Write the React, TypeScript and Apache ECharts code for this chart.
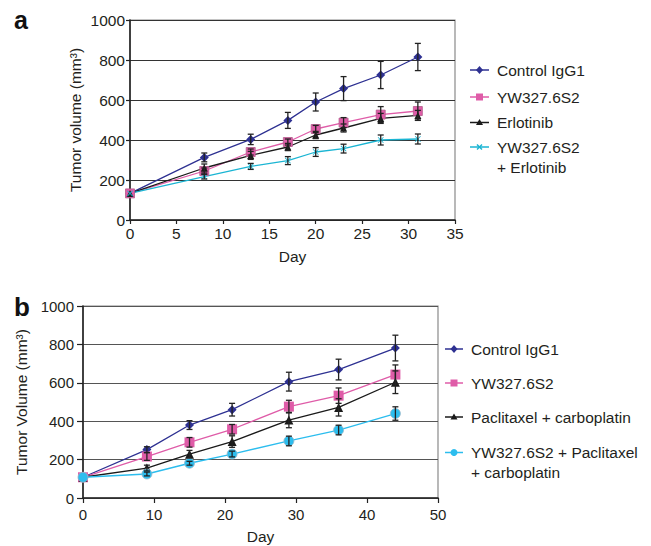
import React, { useEffect, useRef } from "react";
import * as echarts from "echarts";

// ---------- Panel a data ----------
const daysA = [0, 8, 13, 17, 20, 23, 27, 31];
const controlA = [133, 313, 403, 498, 590, 657, 725, 815];
const controlAErr = [0, 22, 26, 40, 45, 60, 68, 68];
const ywA = [133, 245, 340, 390, 455, 487, 527, 545];
const ywAErr = [0, 15, 15, 15, 18, 25, 40, 45];
const erloA = [133, 260, 323, 365, 425, 460, 508, 523];
const erloAErr = [0, 20, 20, 18, 18, 20, 25, 25];
const comboA = [133, 217, 268, 297, 340, 357, 400, 405];
const comboAErr = [0, 12, 15, 20, 22, 22, 25, 25];

// ---------- Panel b data ----------
const daysB = [0, 9, 15, 21, 29, 36, 44];
const controlB = [108, 252, 380, 460, 606, 669, 781];
const controlBErr = [0, 15, 23, 33, 49, 54, 67];
const ywB = [108, 216, 290, 358, 476, 533, 643];
const ywBErr = [0, 20, 25, 25, 33, 40, 50];
const pacB = [108, 156, 228, 294, 406, 472, 603];
const pacBErr = [0, 15, 20, 30, 40, 45, 59];
const comboB = [108, 125, 181, 229, 297, 354, 440];
const comboBErr = [0, 10, 10, 15, 25, 25, 35];

const yTicks = [0, 200, 400, 600, 800, 1000];

const NAVY = "#2e3192";
const PINK = "#df5ca8";
const BLACK = "#1a1a1a";
const CYAN_A = "#1bb5d3";
const CYAN_B = "#2cbdee";
const TEXT = "#231f20";
const FONT = "Liberation Sans, Arial, sans-serif";

const X_PATH =
  "path://M1,0 L5,4 L9,0 L10,1 L6,5 L10,9 L9,10 L5,6 L1,10 L0,9 L4,5 L0,1 Z";

const zip = (xs: number[], ys: number[]) => xs.map((x, i) => [x, ys[i]]);
const zip3 = (xs: number[], ys: number[], es: number[]) =>
  xs.map((x, i) => [x, ys[i], es[i]]);

function errSeries(data: number[][], idx: number) {
  return {
    type: "custom",
    xAxisIndex: idx,
    yAxisIndex: idx,
    z: 5,
    silent: true,
    data,
    encode: { x: 0, y: 1 },
    renderItem: (params: any, api: any) => {
      const x = api.value(0);
      const y = api.value(1);
      const e = api.value(2);
      if (!e) return null;
      const top = api.coord([x, y + e]);
      const bot = api.coord([x, y - e]);
      const w = 3;
      const style = { stroke: "#222", lineWidth: 1.3 };
      return {
        type: "group",
        children: [
          { type: "line", shape: { x1: top[0], y1: top[1], x2: bot[0], y2: bot[1] }, style },
          { type: "line", shape: { x1: top[0] - w, y1: top[1], x2: top[0] + w, y2: top[1] }, style },
          { type: "line", shape: { x1: bot[0] - w, y1: bot[1], x2: bot[0] + w, y2: bot[1] }, style },
        ],
      };
    },
  };
}

function lineSeries(
  name: string,
  data: number[][],
  idx: number,
  color: string,
  symbol: string,
  size: number,
  border?: string
) {
  return {
    type: "line",
    name,
    xAxisIndex: idx,
    yAxisIndex: idx,
    data,
    symbol,
    symbolSize: size,
    z: 3,
    lineStyle: { color, width: 1.3 },
    itemStyle: border
      ? { color, borderColor: border, borderWidth: 0.8 }
      : { color },
  };
}

function legendItem(
  x: number,
  y: number,
  color: string,
  marker: string,
  lines: string[],
  fs: number,
  lineH: number,
  lineLen: number
) {
  const cx = x + lineLen / 2;
  let m: any;
  if (marker === "diamond") {
    m = { type: "polygon", shape: { points: [[cx, y - 4], [cx + 3.5, y], [cx, y + 4], [cx - 3.5, y]] }, style: { fill: color } };
  } else if (marker === "square") {
    m = { type: "rect", shape: { x: cx - 3.5, y: y - 3.5, width: 7, height: 7 }, style: { fill: color } };
  } else if (marker === "triangle") {
    m = { type: "polygon", shape: { points: [[cx, y - 3.5], [cx + 3.5, y + 2.5], [cx - 3.5, y + 2.5]] }, style: { fill: color } };
  } else if (marker === "x") {
    m = {
      type: "group",
      children: [
        { type: "line", shape: { x1: cx - 2.5, y1: y - 2.5, x2: cx + 2.5, y2: y + 2.5 }, style: { stroke: color, lineWidth: 1.5 } },
        { type: "line", shape: { x1: cx - 2.5, y1: y + 2.5, x2: cx + 2.5, y2: y - 2.5 }, style: { stroke: color, lineWidth: 1.5 } },
      ],
    };
  } else {
    m = { type: "circle", shape: { cx, cy: y, r: 3.5 }, style: { fill: color } };
  }
  return [
    { type: "line", shape: { x1: x, y1: y, x2: x + lineLen, y2: y }, style: { stroke: color, lineWidth: 1.5 } },
    m,
    ...lines.map((t, i) => ({
      type: "text",
      x: x + lineLen + 8,
      y: y + i * lineH,
      style: { text: t, fill: TEXT, font: `${fs}px ${FONT}`, textVerticalAlign: "middle" },
    })),
  ];
}

export default function App() {
  const ref = useRef<HTMLDivElement>(null);
  useEffect(() => {
    if (!ref.current) return;
    const chart = echarts.init(ref.current, null, { renderer: "svg" });

    const yAxisCommon = (idx: number, name: string, gap: number, fs: number, margin: number, tickLen: number, gridColor: string) => ({
      type: "value",
      gridIndex: idx,
      min: 0,
      max: 1000,
      interval: 200,
      name,
      nameLocation: "middle",
      nameGap: gap,
      nameTextStyle: { fontSize: 15.5, color: TEXT, fontFamily: FONT },
      axisLine: { show: true, lineStyle: { color: "#222", width: 1.6 } },
      axisTick: { show: true, inside: false, length: tickLen, lineStyle: { color: "#222", width: 1.2 } },
      axisLabel: {
        fontSize: fs,
        color: TEXT,
        fontFamily: FONT,
        margin,
        formatter: (v: number) => (yTicks.includes(v) ? String(v) : ""),
      },
      splitLine: { show: true, lineStyle: { color: gridColor, width: 1.2 } },
    });

    const xAxisCommon = (idx: number, max: number, interval: number, gap: number, fs: number, margin: number, tickLen: number) => ({
      type: "value",
      gridIndex: idx,
      min: 0,
      max,
      interval,
      name: "Day",
      nameLocation: "middle",
      nameGap: gap,
      nameTextStyle: { fontSize: 15.5, color: TEXT, fontFamily: FONT },
      axisLine: { show: true, onZero: false, lineStyle: { color: "#222", width: 1.6 } },
      axisTick: { show: true, inside: false, length: tickLen, lineStyle: { color: "#222", width: 1.2 } },
      axisLabel: { fontSize: fs, color: TEXT, fontFamily: FONT, margin },
      splitLine: { show: false },
    });

    const option: any = {
      animation: false,
      backgroundColor: "#ffffff",
      grid: [
        { left: 130, top: 20, width: 325, height: 200, show: true, borderColor: "#8a8a8a", borderWidth: 1.2, backgroundColor: "transparent" },
        { left: 83, top: 306, width: 355, height: 192, show: true, borderColor: "#8a8a8a", borderWidth: 1.2, backgroundColor: "transparent" },
      ],
      xAxis: [xAxisCommon(0, 35, 5, 28, 15.5, 5, 4), xAxisCommon(1, 50, 10, 30, 15, 9, 5)],
      yAxis: [
        yAxisCommon(0, "Tumor volume (mm³)", 47, 15.5, 5, 4, "#333"),
        yAxisCommon(1, "Tumor Volume (mm³)", 46, 15, 9, 6, "#555"),
      ],
      series: [
        lineSeries("Control IgG1", zip(daysA, controlA), 0, NAVY, "diamond", 9),
        lineSeries("YW327.6S2", zip(daysA, ywA), 0, PINK, "rect", 9, "#b25a8c"),
        lineSeries("Erlotinib", zip(daysA, erloA), 0, BLACK, "triangle", 7),
        lineSeries("YW327.6S2 + Erlotinib", zip(daysA, comboA), 0, CYAN_A, X_PATH, 6),
        errSeries(zip3(daysA, controlA, controlAErr), 0),
        errSeries(zip3(daysA, ywA, ywAErr), 0),
        errSeries(zip3(daysA, erloA, erloAErr), 0),
        errSeries(zip3(daysA, comboA, comboAErr), 0),
        lineSeries("Control IgG1 (b)", zip(daysB, controlB), 1, NAVY, "diamond", 9),
        lineSeries("YW327.6S2 (b)", zip(daysB, ywB), 1, PINK, "rect", 10),
        lineSeries("Paclitaxel + carboplatin", zip(daysB, pacB), 1, BLACK, "triangle", 9),
        lineSeries("YW327.6S2 + Paclitaxel + carboplatin", zip(daysB, comboB), 1, CYAN_B, "circle", 10, "#9ab8c8"),
        errSeries(zip3(daysB, controlB, controlBErr), 1),
        errSeries(zip3(daysB, ywB, ywBErr), 1),
        errSeries(zip3(daysB, pacB, pacBErr), 1),
        errSeries(zip3(daysB, comboB, comboBErr), 1),
      ],
      graphic: [
        { type: "text", x: 14, y: 7, style: { text: "a", fill: "#111", font: `bold 25px ${FONT}` } },
        { type: "text", x: 14, y: 294, style: { text: "b", fill: "#111", font: `bold 26px ${FONT}` } },
        ...legendItem(470, 70, NAVY, "diamond", ["Control IgG1"], 15.5, 20, 19),
        ...legendItem(470, 97, PINK, "square", ["YW327.6S2"], 15.5, 20, 19),
        ...legendItem(470, 122.5, BLACK, "triangle", ["Erlotinib"], 15.5, 20, 19),
        ...legendItem(470, 147, CYAN_A, "x", ["YW327.6S2", "+ Erlotinib"], 15.5, 20, 19),
        ...legendItem(445, 349, NAVY, "diamond", ["Control IgG1"], 15.5, 19.5, 18),
        ...legendItem(445, 383, PINK, "square", ["YW327.6S2"], 15.5, 19.5, 18),
        ...legendItem(445, 417, BLACK, "triangle", ["Paclitaxel + carboplatin"], 15.5, 19.5, 18),
        ...legendItem(445, 452.5, CYAN_B, "circle", ["YW327.6S2 + Paclitaxel", "+ carboplatin"], 15.5, 19.5, 18),
      ],
    };
    chart.setOption(option);
    return () => chart.dispose();
  }, []);
  return (
    <div
      ref={ref}
      style={{ position: "fixed", left: 0, top: 0, width: 651, height: 546, background: "#fff" }}
    />
  );
}
